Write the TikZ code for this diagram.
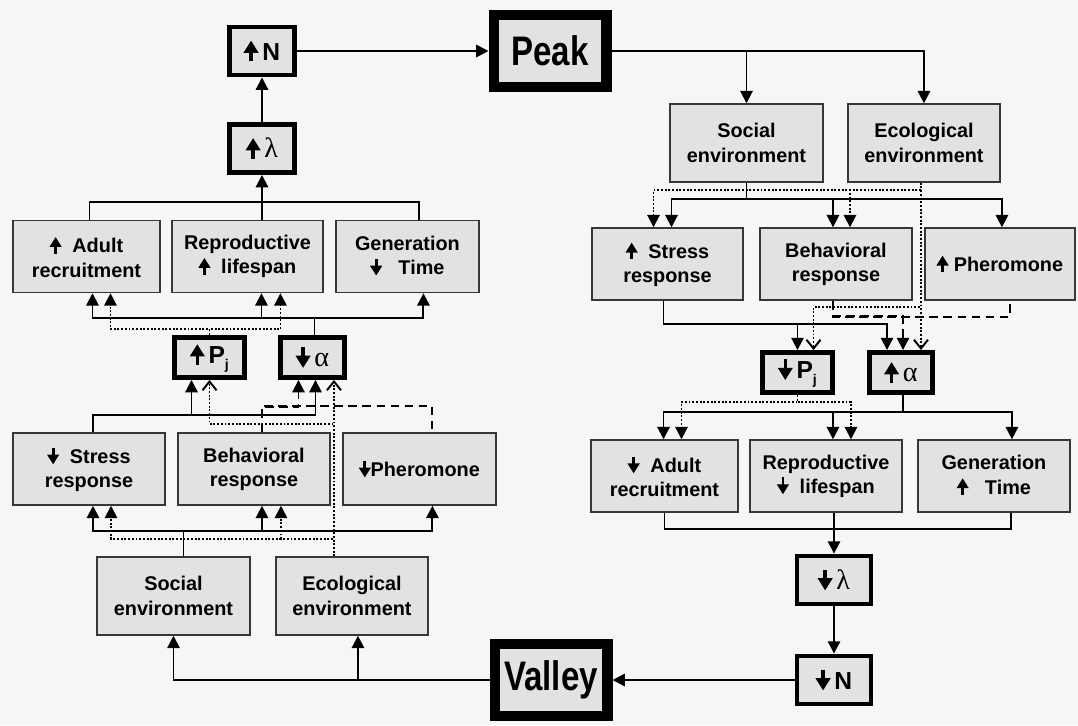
\documentclass[tikz,border=0pt]{standalone}
\usepackage{fontspec}
\setmainfont{Liberation Sans}
\newfontfamily\narrowfont[FakeStretch=0.8]{Liberation Sans Bold}
\newfontfamily\greekfont{Liberation Serif}
\usetikzlibrary{arrows.meta, positioning, calc}
\definecolor{paper}{RGB}{246,246,246}
\definecolor{boxgray}{RGB}{226,226,226}
\definecolor{edge}{RGB}{55,55,55}
\newcommand{\boxfont}{\fontsize{11.3}{13.8}\selectfont\bfseries}
\newcommand{\keyfont}{\fontsize{14}{14}\selectfont\bfseries}
\newcommand{\poleFont}{\narrowfont\fontsize{23.5}{24}\selectfont}
\newcommand{\upsym}{\tikz[baseline=0pt]\draw[line width=0.14em,-{Triangle[length=0.5em,width=0.58em]}] (0pt,-0.05em) -- (0pt,0.8em);}
\newcommand{\dnsym}{\tikz[baseline=0pt]\draw[line width=0.14em,-{Triangle[length=0.5em,width=0.58em]}] (0pt,0.8em) -- (0pt,-0.05em);}
\newcommand{\grk}[1]{{\greekfont\mdseries\fontsize{16}{16}\selectfont #1}}
\tikzstyle{box} = [rectangle, draw=edge, fill=boxgray, line width=0.85pt, align=center, inner sep=0pt, minimum width=3cm, minimum height=1.44cm, font=\boxfont]
\tikzstyle{keybox} = [box, draw=black, line width=2.8pt, minimum width=1.3cm, minimum height=0.96cm, font=\keyfont]
\tikzstyle{polebox} = [box, draw=black, line width=5.7pt, minimum width=2.26cm, minimum height=1.44cm, font=\poleFont]
\tikzstyle{wire} = [draw, line width=1.1pt]
\tikzstyle{line} = [wire, -{Triangle[length=7pt,width=7pt]}]
\tikzstyle{dotline} = [line, densely dotted]
\tikzstyle{opendot} = [wire, densely dotted, -{Straight Barb[length=5pt,width=8pt]}]
\tikzstyle{dashline} = [wire, dash pattern=on 5pt off 3pt]
\tikzstyle{dashtip} = [line, dash pattern=on 5pt off 3pt]

\begin{document}
\begin{tikzpicture}[x=0.02cm, y=-0.02cm, node distance=3.2cm]
        \fill [paper] (0,0) rectangle (1078,725);
        \useasboundingbox (0,0) rectangle (1078,725);

        % Nodes
        \node [polebox] (peak) at (550,51) {Peak};
        \node [polebox] (valley) at (551,680) {Valley};

        \node [keybox] (lN) at (262,51) {\upsym\,N};
        \node [keybox] (lLam) at (262,148.5) {\upsym\,\grk{λ}};
        \node [box, minimum width=2.94cm] (lAdult) at (86.5,256.5) {\upsym\ \ Adult\\recruitment};
        \node [box, right of=lAdult, node distance=3.22cm, minimum width=3.02cm] (lRepro) {Reproductive\\\upsym\ \ lifespan};
        \node [box, right of=lRepro, minimum width=2.86cm] (lGen) {Generation\\\dnsym\ \ \ Time};
        \node [keybox, minimum width=1.4cm, minimum height=0.8cm] (lPj) at (209.5,357.5) {\upsym\,P\raisebox{-0.45ex}{\fontsize{8}{8}\selectfont j}};
        \node [keybox, minimum width=1.28cm, minimum height=0.8cm] (lAlpha) at (312.5,357.5) {\dnsym\,\grk{α}};
        \node [box, minimum width=3.04cm] (lStress) at (89,469) {\dnsym\ \ Stress\\response};
        \node [box, right of=lStress, node distance=3.3cm, minimum width=3.04cm] (lBehav) {Behavioral\\response};
        \node [box, right of=lBehav, node distance=3.31cm, minimum width=3.06cm] (lPher) {\dnsym Pheromone};
        \node [box, minimum width=3.06cm, minimum height=1.56cm] (lSocial) at (173.5,596) {Social\\environment};
        \node [box, right of=lSocial, node distance=3.57cm, minimum width=3.04cm, minimum height=1.56cm] (lEco) {Ecological\\environment};

        \node [box, minimum width=3.06cm, minimum height=1.56cm] (rSocial) at (746.5,143) {Social\\environment};
        \node [box, right of=rSocial, node distance=3.55cm, minimum width=3.04cm, minimum height=1.56cm] (rEco) {Ecological\\environment};
        \node [box, minimum width=3.02cm] (rStress) at (667.5,264) {\upsym\ \ Stress\\response};
        \node [box, right of=rStress, node distance=3.37cm, minimum width=3.04cm] (rBehav) {Behavioral\\response};
        \node [box, right of=rBehav, node distance=3.28cm] (rPher) {\upsym\ Pheromone};
        \node [keybox, minimum width=1.4cm, minimum height=0.8cm] (rPj) at (797.5,372.5) {\dnsym\,P\raisebox{-0.45ex}{\fontsize{8}{8}\selectfont j}};
        \node [keybox, minimum width=1.26cm, minimum height=0.8cm] (rAlpha) at (901,372.5) {\upsym\,\grk{α}};
        \node [box, minimum width=2.94cm] (rAdult) at (664.5,476) {\dnsym\ \ Adult\\recruitment};
        \node [box, right of=rAdult, node distance=3.23cm, minimum width=3.04cm] (rRepro) {Reproductive\\\dnsym\ \ lifespan};
        \node [box, right of=rRepro, node distance=3.36cm, minimum width=3.04cm] (rGen) {Generation\\\upsym\ \ \ Time};
        \node [keybox, minimum width=1.48cm] (rLam) at (834,580) {\dnsym\,\grk{λ}};
        \node [keybox, minimum width=1.48cm] (rN) at (834,680) {\dnsym\,N};

        % Edges, peak side
        \path [line] (lLam) -- (lN);
        \path [line] (lN) -- (peak);
        \draw [wire] ($(lAdult.north)+(3,0)$) |- ($(lGen.north)+(12,-18)$) -- ($(lGen.north)+(12,0)$);
        \path [line] (lRepro.north -| lLam) -- (lLam);
        \path [line] ($(lAlpha.north)+(2,0)$) |- ($(lAdult.south)+(6,25)$) -- ($(lAdult.south)+(6,0)$);
        \path [line] ($(lAlpha.north)+(2,0)$) |- ($(lRepro.south)+(14,25)$) -- ($(lRepro.south)+(14,0)$);
        \path [line] ($(lAlpha.north)+(2,0)$) |- ($(lGen.south)+(16,25)$) -- ($(lGen.south)+(16,0)$);
        \path [dotline] (lPj.north) |- ($(lAdult.south)+(24,36)$) -- ($(lAdult.south)+(24,0)$);
        \path [dotline] (lPj.north) |- ($(lRepro.south)+(33,36)$) -- ($(lRepro.south)+(33,0)$);
        \path [line] ($(lStress.north)+(4,0)$) |- ($(lPj.south)+(-18,35)$) -- ($(lPj.south)+(-18,0)$);
        \path [line] ($(lStress.north)+(4,0)$) |- ($(lAlpha.south)+(3,35)$) -- ($(lAlpha.south)+(3,0)$);
        \path [dashline] ($(lBehav.north)+(8,0)$) |- ($(lPher.north)+(13,-26)$) -- ($(lPher.north)+(13,0)$);
        \path [dashtip] ($(lBehav.north)+(8,0)$) |- ($(lAlpha.south)+(-14,27)$) -- ($(lAlpha.south)+(-14,0)$);
        \coordinate (lEcoOut) at ($(lEco.north)+(-18,0)$);
        \path [opendot] (lEcoOut) -- (lEcoOut |- lAlpha.south);
        \path [opendot] (lEcoOut) |- ($(lPj.south)+(0,44)$) -- (lPj.south);
        \path [dotline] (lEcoOut) |- ($(lStress.south)+(22,33)$) -- ($(lStress.south)+(22,0)$);
        \path [dotline] (lEcoOut) |- ($(lBehav.south)+(27,33)$) -- ($(lBehav.south)+(27,0)$);
        \path [line] ($(lSocial.north)+(10,0)$) |- ($(lStress.south)+(4,25)$) -- ($(lStress.south)+(4,0)$);
        \path [line] ($(lSocial.north)+(10,0)$) |- ($(lBehav.south)+(8,25)$) -- ($(lBehav.south)+(8,0)$);
        \path [line] ($(lSocial.north)+(10,0)$) |- ($(lPher.south)+(13,25)$) -- ($(lPher.south)+(13,0)$);
        \path [line] (valley.west) -| (lSocial.south);
        \path [line] (valley.west) -| ($(lEco.south)+(6,0)$);

        % Edges, valley side
        \path [line] (peak.east) -| (rSocial.north);
        \path [line] (peak.east) -| (rEco.north);
        \path [line] (rSocial.south) |- ($(rStress.north)+(4,-28)$) -- ($(rStress.north)+(4,0)$);
        \path [line] (rSocial.south) |- ($(rBehav.north)+(-3,-28)$) -- ($(rBehav.north)+(-3,0)$);
        \path [line] (rSocial.south) |- ($(rPher.north)+(2,-28)$) -- ($(rPher.north)+(2,0)$);
        \coordinate (rEcoOut) at ($(rEco.south)+(-3,0)$);
        \path [dotline] (rEcoOut) |- ($(rStress.north)+(-14,-37)$) -- ($(rStress.north)+(-14,0)$);
        \path [dotline] (rEcoOut) |- ($(rBehav.north)+(14,-37)$) -- ($(rBehav.north)+(14,0)$);
        \path [opendot] (rEcoOut) -- (rEcoOut |- rAlpha.north);
        \path [opendot] (rEcoOut) |- ($(rPj.north)+(16,-43)$) -- ($(rPj.north)+(16,0)$);
        \path [line] ($(rStress.south)+(-4,0)$) |- ($(rPj.north)+(0,-26)$) -- (rPj.north);
        \path [line] ($(rStress.south)+(-4,0)$) |- ($(rAlpha.north)+(-14,-26)$) -- ($(rAlpha.north)+(-14,0)$);
        \path [dashline] ($(rBehav.south)+(-3,0)$) |- ($(rPher.south)+(10,16)$) -- ($(rPher.south)+(10,0)$);
        \path [dashtip] ($(rBehav.south)+(-3,0)$) |- ($(rAlpha.north)+(2,-34)$) -- ($(rAlpha.north)+(2,0)$);
        \path [line] ($(rAlpha.south)+(2,0)$) |- ($(rAdult.north)+(-1,-27)$) -- ($(rAdult.north)+(-1,0)$);
        \path [line] ($(rAlpha.south)+(2,0)$) |- ($(rRepro.north)+(7,-27)$) -- ($(rRepro.north)+(7,0)$);
        \path [line] ($(rAlpha.south)+(2,0)$) |- ($(rGen.north)+(18,-27)$) -- ($(rGen.north)+(18,0)$);
        \path [dotline] (rPj.south) |- ($(rAdult.north)+(17,-37)$) -- ($(rAdult.north)+(17,0)$);
        \path [dotline] (rPj.south) |- ($(rRepro.north)+(25,-37)$) -- ($(rRepro.north)+(25,0)$);
        \draw [wire] (rAdult.south) |- ($(rGen.south)+(17,16)$) -- ($(rGen.south)+(17,0)$);
        \path [line] (rRepro.south -| rLam) -- (rLam);
        \path [line] (rLam) -- (rN);
        \path [line] (rN) -- (valley);
    \end{tikzpicture}
\end{document}
